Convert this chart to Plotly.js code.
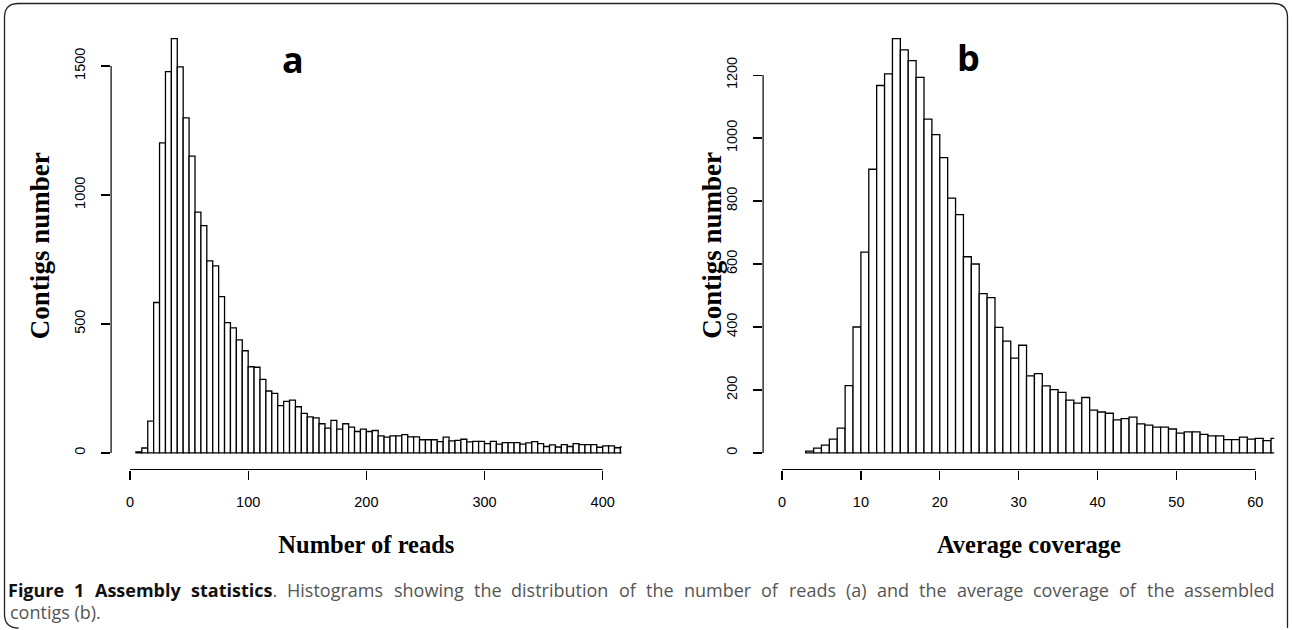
<!DOCTYPE html>
<html><head><meta charset="utf-8">
<script src="https://cdn.plot.ly/plotly-3.0.1.min.js"></script>
<style>html,body{margin:0;padding:0;background:#fff}#chart{width:1292px;height:630px}</style>
</head><body><div id="chart"></div>
<script>
// ---- data ----
const readBinStart = 5;      // lower edge of first bin (reads)
const readBinWidth = 5;
const readCounts = [4,19,123,583,1202,1478,1606,1496,1299,1150,
  933,881,744,725,606,505,485,438,396,334,
  332,285,240,231,183,200,205,179,153,140,
  136,113,96,126,92,113,100,83,92,83,
  87,66,61,66,66,71,62,62,51,51,
  51,44,61,47,49,53,43,45,45,36,
  45,34,40,40,40,34,39,44,36,25,
  31,23,32,25,36,32,32,32,22,27,
  27,20,23];
const covBinStart = 3;       // lower edge of first bin (coverage)
const covBinWidth = 1;
const covCounts = [6,15,25,44,79,214,400,638,901,1167,
  1204,1316,1280,1246,1193,1060,1011,938,809,757,
  623,600,506,493,399,355,301,342,245,252,
  213,201,192,168,158,176,136,130,126,105,
  109,114,92,88,82,82,76,63,67,67,
  59,54,54,42,42,50,44,46,39,46];
const readTicks = [0,100,200,300,400];
const readCountTicks = [0,500,1000,1500];
const covTicks = [0,10,20,30,40,50,60];
const covCountTicks = [0,200,400,600,800,1000,1200];
const panelLabels = ['a','b'];
const xTitles = ['Number of reads','Average coverage'];
const yTitle = 'Contigs number';
const captionBold = 'Figure 1 Assembly statistics';
const captionRest1 = '. Histograms showing the distribution of the number of reads (a) and the average coverage of the assembled';
const captionRest2 = 'contigs (b).';

// ---- layout helpers ----
const W = 1292, H = 630;
const px = v => v / W, py = v => 1 - v / H;
const edges = (start, w, n) => Array.from({length: n}, (_, i) => start + i * w);

const readX = edges(readBinStart, readBinWidth, readCounts.length);
const covX = edges(covBinStart, covBinWidth, covCounts.length);

const readMax = Math.max(...readCounts), covMax = Math.max(...covCounts);
const yDom = [py(469.5), py(22)];
const xDomA = [px(111.1), px(621.6)];
const xDomB = [px(763.1), px(1274.2)];

const barStyle = {color: '#ffffff', line: {color: '#000000', width: 1.3}};
const traces = [
  {type: 'bar', x: readX, y: readCounts, width: readBinWidth, offset: 0,
   marker: barStyle, xaxis: 'x', yaxis: 'y', hoverinfo: 'x+y', showlegend: false},
  {type: 'bar', x: covX, y: covCounts, width: covBinWidth, offset: 0,
   marker: barStyle, xaxis: 'x2', yaxis: 'y2', hoverinfo: 'x+y', showlegend: false}
];

const tickFont = {family: 'Liberation Sans, Arial, sans-serif', size: 14.5, color: '#000'};
const xTitleFont = {family: 'Liberation Serif, Times New Roman, serif', size: 24.5, color: '#000', weight: 'bold'};
const yTitleFont = {family: 'Liberation Serif, Times New Roman, serif', size: 27, color: '#000', weight: 'bold'};

function xAxis(dom, range, ticks, title, anchor) {
  return {domain: dom, range: range, anchor: anchor, tickmode: 'array', tickvals: ticks,
    ticktext: ticks.map(String), ticks: 'outside', ticklen: 9, tickwidth: 1.2, tickcolor: '#000',
    showline: false, showgrid: false, zeroline: false, tickfont: tickFont,
    ticklabelstandoff: 10,
    title: {text: title, font: xTitleFont, standoff: 26}, fixedrange: true};
}
function yAxis(range, ticks, anchor, title, standoff) {
  return {domain: yDom, range: range, anchor: anchor, tickmode: 'array', tickvals: ticks,
    ticktext: ticks.map(String), ticks: 'outside', ticklen: 9, tickwidth: 1.2, tickcolor: '#000',
    tickangle: -90, showline: false, showgrid: false, zeroline: false, tickfont: tickFont,
    ticklabelstandoff: 10,
    title: {text: title, font: yTitleFont, standoff: standoff}, fixedrange: true};
}

const axLine = {color: '#000', width: 1.2};
const shapes = [
  {type: 'line', xref: 'x', yref: 'paper', x0: readTicks[0], x1: readTicks[readTicks.length-1], y0: yDom[0], y1: yDom[0], line: axLine},
  {type: 'line', xref: 'paper', yref: 'y', x0: xDomA[0], x1: xDomA[0], y0: readCountTicks[0], y1: readCountTicks[readCountTicks.length-1], line: axLine},
  {type: 'line', xref: 'x2', yref: 'paper', x0: covTicks[0], x1: covTicks[covTicks.length-1], y0: yDom[0], y1: yDom[0], line: axLine},
  {type: 'line', xref: 'paper', yref: 'y2', x0: xDomB[0], x1: xDomB[0], y0: covCountTicks[0], y1: covCountTicks[covCountTicks.length-1], line: axLine}
];
// figure frame with rounded corners
(function(){
  const l = 4.5, r = 1287.5, t = 3.5, b = 628, rad = 14;
  const P = (x, y) => px(x) + ',' + py(y);
  const path = 'M ' + P(l, b - rad) + ' L ' + P(l, t + rad) + ' Q ' + P(l, t) + ' ' + P(l + rad, t) +
    ' L ' + P(r - rad, t) + ' Q ' + P(r, t) + ' ' + P(r, t + rad) + ' L ' + P(r, b);
  shapes.push({type: 'path', xref: 'paper', yref: 'paper', path: path, line: {color: '#222', width: 1.3}});
  const path2 = 'M ' + P(l, b - rad) + ' Q ' + P(l, b) + ' ' + P(l + rad, b);
  shapes.push({type: 'path', xref: 'paper', yref: 'paper', path: path2, line: {color: '#222', width: 1.3}});
})();

const capSize = 18;
const capFamily = 'Open Sans, Lato, sans-serif';
const capFont = {family: capFamily, size: capSize, color: '#555'};
const annotations = [
  {xref: 'paper', yref: 'paper', x: px(293), y: py(59), xanchor: 'center', yanchor: 'middle',
   text: '<b>' + panelLabels[0] + '</b>', showarrow: false,
   font: {family: 'Open Sans, sans-serif', size: 36, color: '#000'}},
  {xref: 'paper', yref: 'paper', x: px(968), y: py(57), xanchor: 'center', yanchor: 'middle',
   text: '<b>' + panelLabels[1] + '</b>', showarrow: false,
   font: {family: 'Open Sans, sans-serif', size: 36, color: '#000'}},
  // right panel axis titles (placed like the reference)
  {xref: 'paper', yref: 'paper', x: px(712), y: py(245.75), xanchor: 'center', yanchor: 'middle',
   textangle: -90, text: yTitle, showarrow: false, font: yTitleFont},
  {xref: 'paper', yref: 'paper', x: px(1029), y: py(544), xanchor: 'center', yanchor: 'middle',
   text: xTitles[1], showarrow: false, font: xTitleFont},
  {xref: 'paper', yref: 'paper', x: px(8), y: py(612), xanchor: 'left', yanchor: 'middle', showarrow: false,
   text: captionRest2, font: capFont}
];

// justified first caption line (word-by-word placement)
(function(){
  const ctx = document.createElement('canvas').getContext('2d');
  const meas = (s, bold) => { ctx.font = (bold ? 'bold ' : '') + capSize + 'px "Open Sans"'; return ctx.measureText(s).width; };
  const tokens = [];
  const bw = captionBold.split(' ');
  bw.forEach((w, i) => {
    if (i < bw.length - 1) tokens.push({html: '<b><span style="color:#111">' + w + '</span></b>', w: meas(w, true)});
    else tokens.push({html: '<b><span style="color:#111">' + w + '</span></b>.', w: meas(w, true) + meas('.', false)});
  });
  captionRest1.slice(2).split(' ').forEach(w => tokens.push({html: w, w: meas(w, false)}));
  const left = 8, right = 1275;
  const total = tokens.reduce((s, t) => s + t.w, 0);
  const gap = Math.max(3, (right - left - total) / (tokens.length - 1));
  let x = left;
  tokens.forEach(t => {
    annotations.push({xref: 'paper', yref: 'paper', x: px(x), y: py(590), xanchor: 'left', yanchor: 'middle',
      showarrow: false, text: t.html, font: capFont, borderpad: 0, xshift: -1});
    x += t.w + gap;
  });
})();

const layout = {
  width: W, height: H, margin: {l: 0, r: 0, t: 0, b: 0},
  paper_bgcolor: '#fff', plot_bgcolor: '#fff',
  xaxis: xAxis(xDomA, [-0.04 * readTicks[readTicks.length-1], 1.04 * readTicks[readTicks.length-1]], readTicks, xTitles[0], 'y'),
  yaxis: yAxis([-0.04 * readMax, 1.04 * readMax], readCountTicks, 'x', yTitle, 14),
  xaxis2: xAxis(xDomB, [-0.04 * covTicks[covTicks.length-1], 1.04 * covTicks[covTicks.length-1]], covTicks, '', 'y2'),
  yaxis2: yAxis([-0.04 * covMax, 1.04 * covMax], covCountTicks, 'x2', '', 1),
  shapes: shapes, annotations: annotations, bargap: 0, showlegend: false
};

Plotly.newPlot('chart', traces, layout, {displayModeBar: false, staticPlot: true});
</script></body></html>
